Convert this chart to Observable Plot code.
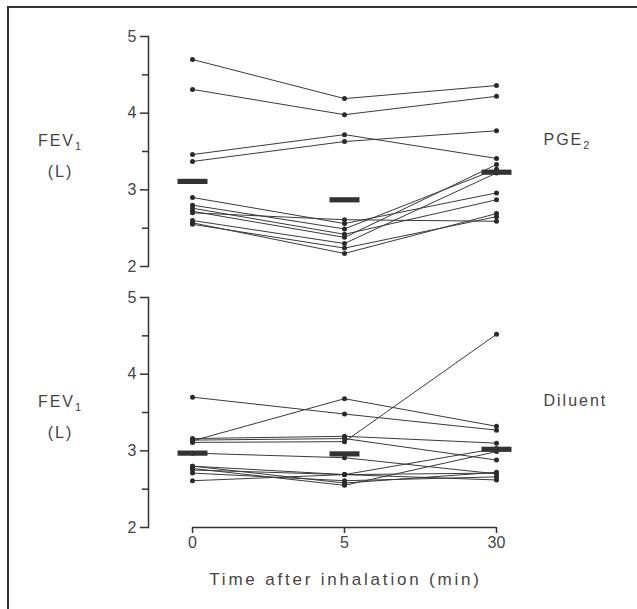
<!DOCTYPE html>
<html>
<head>
<meta charset="utf-8">
<script src="https://cdn.jsdelivr.net/npm/d3@7"></script>
<script src="https://cdn.jsdelivr.net/npm/@observablehq/plot@0.6"></script>
<style>
  html, body { margin: 0; padding: 0; background: #fff; }
  #wrap { position: relative; width: 637px; height: 609px; overflow: hidden; }
  #border { position: absolute; left: 7px; top: 6px; right: -10px; bottom: -10px;
            border-left: 2px solid #333; border-top: 2px solid #333; pointer-events: none; }
</style>
</head>
<body>
<div id="wrap"><div id="border"></div></div>
<script>
// ---- data ----
const times = ["0", "5", "30"];
const panels = ["PGE₂", "Diluent"];
const yLabel = "FEV₁\n(L)";
const xTitle = "Time after inhalation (min)";
const yMajor = [2, 3, 4, 5];
const yMinor = [2.5, 3.5, 4.5];

// PGE2 panel: FEV1 (L) per subject at 0, 5, 30 min
const pge0  = [4.70, 4.31, 3.46, 3.37, 2.90, 2.80, 2.76, 2.72, 2.70, 2.60, 2.57, 2.55];
const pge5  = [4.19, 3.98, 3.72, 3.63, 2.56, 2.49, 2.42, 2.38, 2.61, 2.30, 2.17, 2.24];
const pge30 = [4.36, 4.22, 3.41, 3.77, 2.96, 3.27, 2.87, 3.33, 2.59, 3.22, 2.69, 2.65];
const pgeMeans = [3.11, 2.87, 3.23];

// Diluent panel
const dil0  = [3.70, 3.13, 3.11, 3.16, 3.14, 2.97, 2.80, 2.77, 2.75, 2.71, 2.61, 2.80];
const dil5  = [3.48, 3.68, 3.12, 3.19, 3.16, 2.91, 2.69, 2.55, 2.69, 2.61, 2.69, 2.58];
const dil30 = [3.27, 3.32, 4.52, 3.10, 2.88, 2.70, 3.03, 2.99, 2.71, 2.66, 2.62, 2.72];
const dilMeans = [2.97, 2.96, 3.02];

// ---- tables built from the arrays ----
function subjectRows(panel, cols) {
  const out = [];
  cols[0].forEach((_, i) => {
    times.forEach((t, j) => out.push({panel, subject: panel + i, time: t, fev: cols[j][i]}));
  });
  return out;
}
const rows = [
  ...subjectRows(panels[0], [pge0, pge5, pge30]),
  ...subjectRows(panels[1], [dil0, dil5, dil30])
];
const meanRows = [
  ...times.map((t, j) => ({panel: panels[0], time: t, fev: pgeMeans[j]})),
  ...times.map((t, j) => ({panel: panels[1], time: t, fev: dilMeans[j]}))
];
const panelRows = panels.map(p => ({panel: p}));

const barSymbol = { draw(ctx) { ctx.rect(-15, -2.6, 30, 5.2); } };
const ink = "#333";

const chart = Plot.plot({
  width: 637,
  height: 609,
  marginLeft: 148,
  marginRight: 141,
  marginTop: 36,
  marginBottom: 82,
  style: {fontFamily: "'Liberation Sans', Arial, sans-serif", color: "#444", background: "white"},
  x: {type: "point", domain: times, padding: 0, insetLeft: 44},
  y: {domain: [yMajor[0], yMajor[yMajor.length - 1]]},
  fy: {domain: panels, paddingInner: 0.119, paddingOuter: 0, axis: null},
  marks: [
    Plot.frame({anchor: "left", stroke: ink, strokeWidth: 1.5}),
    Plot.axisY({ticks: yMajor, tickFormat: d3.format("d"), tickSize: 8, tickPadding: 4, fontSize: 16,
      label: null, stroke: ink, strokeWidth: 1.5}),
    Plot.axisY({ticks: yMinor, tickSize: 6, tickFormat: () => "", label: null, stroke: ink, strokeWidth: 1.5}),
    Plot.axisX({tickSize: 6, tickPadding: 3, fontSize: 16, label: null, stroke: ink, strokeWidth: 1.5}),
    Plot.ruleY([{panel: panels[1], y: yMajor[0]}], {
      y: "y", fy: "panel", x1: () => times[0], x2: () => times[times.length - 1],
      stroke: ink, strokeWidth: 1.5
    }),
    Plot.line(rows, {x: "time", y: "fev", z: "subject", fy: "panel", stroke: "#3a3a3a", strokeWidth: 1}),
    Plot.dot(rows, {x: "time", y: "fev", fy: "panel", r: 2.5, fill: "#2a2a2a", stroke: null}),
    Plot.dot(meanRows, {x: "time", y: "fev", fy: "panel", symbol: barSymbol, r: 3, fill: "#333", stroke: null}),
    Plot.text(panelRows, {fy: "panel", text: () => yLabel, frameAnchor: "left", dx: -88,
      lineHeight: 1.94, fontSize: 16, textAnchor: "middle", fill: "#444"}),
    Plot.text(panelRows, {fy: "panel", text: "panel", frameAnchor: "right", dx: 47, dy: -12,
      fontSize: 16, textAnchor: "start", fill: "#444"}),
    Plot.text([{panel: panels[1]}], {fy: "panel", text: () => xTitle, frameAnchor: "bottom",
      dx: 23, dy: 57, fontSize: 17, textAnchor: "middle", fill: "#444"})
  ]
});

// letter spacing and real subscripts, as in the reference typography
const subDigits = "₀₁₂₃₄₅₆₇₈₉";
d3.select(chart).selectAll("g[aria-label='text'] text").each(function() {
  const s = this.textContent;
  d3.select(this).attr("letter-spacing", s.startsWith("Time") ? "2.8px" : "2px");
  const nodes = this.querySelectorAll("tspan").length ? Array.from(this.querySelectorAll("tspan")) : [this];
  nodes.forEach(node => {
    const t = node.textContent;
    const last = t[t.length - 1];
    const k = subDigits.indexOf(last);
    if (k < 0) return;
    node.textContent = "";
    d3.select(node).append("tspan").text(t.slice(0, -1));
    d3.select(node).append("tspan").attr("font-size", 11).attr("baseline-shift", -4).text(String(k));
  });
});

document.getElementById("wrap").appendChild(chart);
</script>
</body>
</html>
